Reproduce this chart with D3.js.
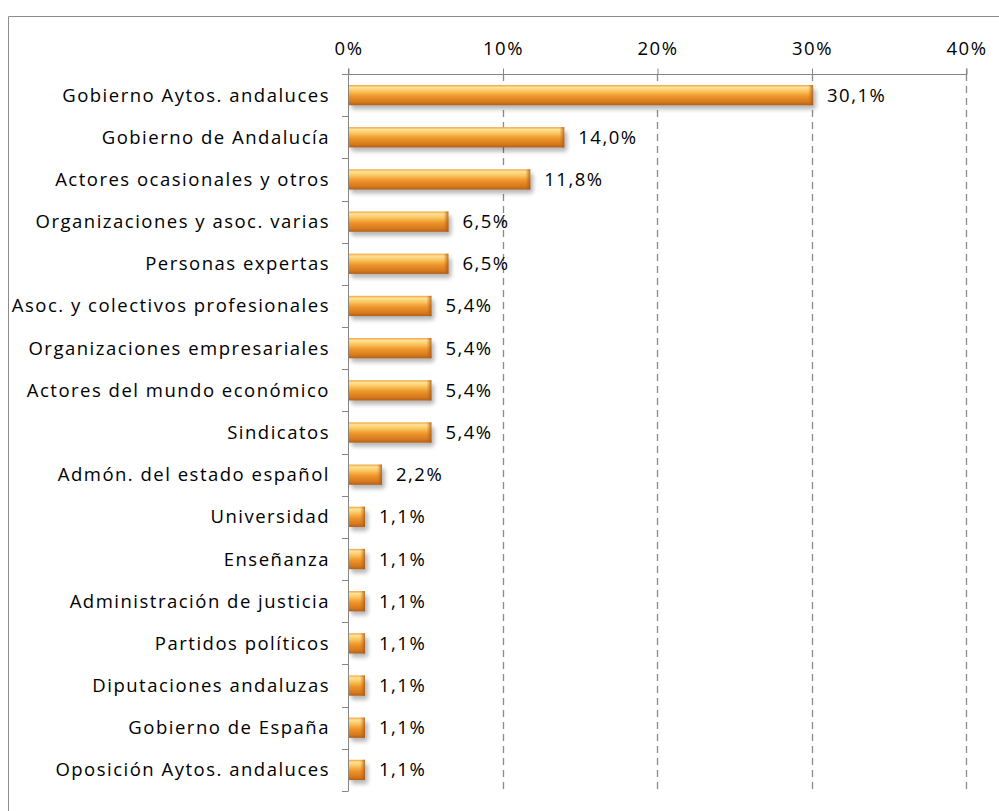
<!DOCTYPE html>
<html>
<head>
<meta charset="utf-8">
<script src="https://cdn.jsdelivr.net/npm/d3@7"></script>
<style>
  body { margin: 0; background: #fff; }
  svg text { font-family: "Open Sans", sans-serif; fill: #000; letter-spacing: 1.5px; }
</style>
</head>
<body>
<div id="chart"></div>
<script>
var categories = [
  'Gobierno Aytos. andaluces',
  'Gobierno de Andalucía',
  'Actores ocasionales y otros',
  'Organizaciones y asoc. varias',
  'Personas expertas',
  'Asoc. y colectivos profesionales',
  'Organizaciones empresariales',
  'Actores del mundo económico',
  'Sindicatos',
  'Admón. del estado español',
  'Universidad',
  'Enseñanza',
  'Administración de justicia',
  'Partidos políticos',
  'Diputaciones andaluzas',
  'Gobierno de España',
  'Oposición Aytos. andaluces'
];
var values = [30.1, 14.0, 11.8, 6.5, 6.5, 5.4, 5.4, 5.4, 5.4, 2.2, 1.1, 1.1, 1.1, 1.1, 1.1, 1.1, 1.1];
var ticks = [0, 10, 20, 30, 40];

var W = 999, H = 811;
var plotLeft = 348, plotRight = 966, plotTop = 74, plotBottom = 791;
var fontSize = 18.5;

var svg = d3.select('#chart').append('svg')
    .attr('width', W)
    .attr('height', H);

var defs = svg.append('defs');

// cylinder look for the bars
var grad = defs.append('linearGradient')
    .attr('id', 'barGrad')
    .attr('x1', 0).attr('y1', 0).attr('x2', 0).attr('y2', 1);
grad.append('stop').attr('offset', '0%').attr('stop-color', '#f3a23a');
grad.append('stop').attr('offset', '12%').attr('stop-color', '#fde39a');
grad.append('stop').attr('offset', '30%').attr('stop-color', '#fbc760');
grad.append('stop').attr('offset', '55%').attr('stop-color', '#ee962c');
grad.append('stop').attr('offset', '85%').attr('stop-color', '#d6781c');
grad.append('stop').attr('offset', '100%').attr('stop-color', '#b2601a');

var capGrad = defs.append('linearGradient')
    .attr('id', 'capGrad')
    .attr('x1', 0).attr('y1', 0).attr('x2', 1).attr('y2', 0);
capGrad.append('stop').attr('offset', '0%').attr('stop-color', '#c86c18').attr('stop-opacity', 0);
capGrad.append('stop').attr('offset', '100%').attr('stop-color', '#a85510').attr('stop-opacity', 0.8);

var blur = defs.append('filter').attr('id', 'shadow')
    .attr('x', '-10%').attr('y', '-50%').attr('width', '130%').attr('height', '200%');
blur.append('feGaussianBlur').attr('stdDeviation', 2);

// outer frame (only top and left are visible in the picture)
svg.append('path')
    .attr('d', 'M8.5,' + (H + 2) + 'V16.5H' + (W + 2))
    .attr('fill', 'none')
    .attr('stroke', '#8c8c8c')
    .attr('stroke-width', 1);

var x = d3.scaleLinear().domain([0, 40]).range([plotLeft, plotRight]);
var y = d3.scaleBand().domain(categories).range([plotTop, plotBottom]).paddingInner(0.52).paddingOuter(0.26);

// dashed gridlines
svg.append('g').selectAll('line')
    .data(ticks.filter(function(t){ return t > 0; }))
    .enter().append('line')
    .attr('x1', function(d){ return Math.round(x(d)) + 0.5; })
    .attr('x2', function(d){ return Math.round(x(d)) + 0.5; })
    .attr('y1', plotTop)
    .attr('y2', plotBottom - 2)
    .attr('stroke', '#8a8a8a')
    .attr('stroke-width', 1.3)
    .attr('stroke-dasharray', '7,5');

// top axis
var xAxis = d3.axisTop(x)
    .tickValues(ticks)
    .tickSize(6)
    .tickPadding(14)
    .tickFormat(function(d){ return d + '%'; });

var gx = svg.append('g')
    .attr('transform', 'translate(0.5,' + (plotTop + 0.5) + ')')
    .call(xAxis);
gx.select('.domain').attr('stroke', '#868686').attr('d', 'M' + plotLeft + ',-6V0H' + plotRight + 'V-6');
gx.selectAll('.tick line').attr('stroke', '#868686');
gx.selectAll('.tick text')
    .attr('font-size', fontSize)
    .style('font-family', '"Open Sans", sans-serif')
    .attr('fill', '#000');

// left axis with ticks at band boundaries
var step = y.step();
var bounds = d3.range(categories.length + 1).map(function(i){ return plotTop + i * step; });
var gy = svg.append('g');
gy.append('line')
    .attr('x1', plotLeft + 0.5).attr('x2', plotLeft + 0.5)
    .attr('y1', plotTop).attr('y2', plotBottom)
    .attr('stroke', '#868686');
gy.selectAll('line.tk')
    .data(bounds)
    .enter().append('line')
    .attr('class', 'tk')
    .attr('x1', plotLeft - 6).attr('x2', plotLeft + 0.5)
    .attr('y1', function(d){ return Math.round(d) + 0.5; })
    .attr('y2', function(d){ return Math.round(d) + 0.5; })
    .attr('stroke', '#868686');

// category labels
svg.append('g').selectAll('text')
    .data(categories)
    .enter().append('text')
    .attr('x', plotLeft - 18)
    .attr('y', function(d){ return y(d) + y.bandwidth() / 2; })
    .attr('dy', '0.35em')
    .attr('text-anchor', 'end')
    .attr('font-size', fontSize)
    .text(function(d){ return d; });

// bars
var bars = svg.append('g').selectAll('g')
    .data(values)
    .enter().append('g')
    .attr('transform', function(d, i){ return 'translate(0,' + y(categories[i]) + ')'; });

bars.append('rect')
    .attr('x', plotLeft + 3)
    .attr('y', 4)
    .attr('width', function(d){ return x(d) - plotLeft; })
    .attr('height', y.bandwidth())
    .attr('rx', 3)
    .attr('fill', '#000')
    .attr('opacity', 0.28)
    .attr('filter', 'url(#shadow)');

bars.append('rect')
    .attr('x', plotLeft + 1)
    .attr('y', 0)
    .attr('width', function(d){ return x(d) - plotLeft - 1; })
    .attr('height', y.bandwidth())
    .attr('fill', 'url(#barGrad)');

bars.append('rect')
    .attr('x', function(d){ return x(d) - 5; })
    .attr('y', 0)
    .attr('width', 5)
    .attr('height', y.bandwidth())
    .attr('fill', 'url(#capGrad)');

// value labels
bars.append('text')
    .attr('x', function(d){ return x(d) + 14; })
    .attr('y', y.bandwidth() / 2)
    .attr('dy', '0.35em')
    .attr('font-size', fontSize)
    .text(function(d){ return d.toFixed(1).replace('.', ',') + '%'; });
</script>
</body>
</html>
